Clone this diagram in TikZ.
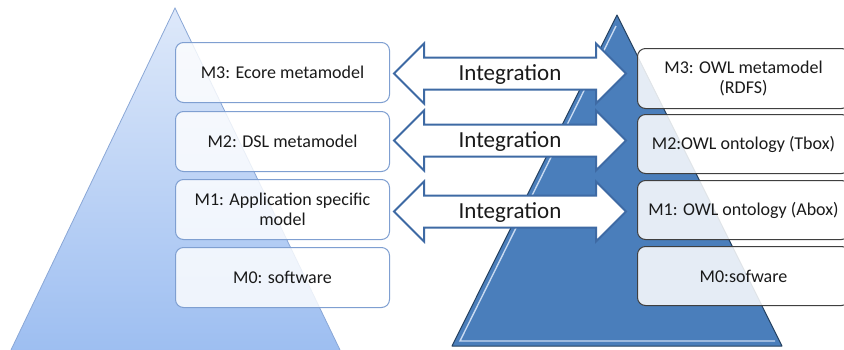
\documentclass[tikz,border=0pt]{standalone}
\usepackage{fontspec}
\setmainfont{Carlito}
\usetikzlibrary{calc}

\definecolor{pyrtop}{HTML}{DEE9FA}
\definecolor{pyrbot}{HTML}{9DBEF1}
\definecolor{pyredge}{HTML}{8AA7D6}
\definecolor{owlblue}{HTML}{4A7EBB}
\definecolor{owledge}{HTML}{24405F}
\definecolor{owllight}{HTML}{C8DAF1}
\definecolor{lboxedge}{HTML}{7F9FD1}
\definecolor{rboxedge}{HTML}{3F3F3F}
\definecolor{arrowedge}{HTML}{3E6AA4}
\definecolor{txt}{HTML}{1A1A1A}

% double-headed block arrow between two tips, with its label node
\newcommand\integarrow[3]{%
  \draw[blockarrow] (#1) -- ++(30,-30) -- ++(0,14) -- ($(#2)+(-30,-16)$)
    -- ++(0,-14) -- (#2) -- ++(-30,30) -- ++(0,-14) -- ($(#1)+(30,16)$)
    -- ++(0,14) -- cycle;
  \node[inttext] (#3) at ($(#1)!0.5!(#2)+(0,1)$) {Integration};
}

\begin{document}
\begin{tikzpicture}[x=1pt,y=-1pt,
  boxbase/.style={line width=1pt, fill=white, text opacity=1,
    rounded corners=8pt, align=center, text=txt, inner sep=0pt,
    anchor=north west, font=\fontsize{18}{20.5}\selectfont},
  lbox/.style={boxbase, draw=lboxedge, fill opacity=0.82,
    minimum width=214pt, minimum height=60pt},
  rbox/.style={boxbase, draw=rboxedge, fill opacity=0.86,
    minimum width=212pt, minimum height=59pt},
  blockarrow/.style={draw=arrowedge, fill=white, line width=2pt, line join=miter},
  inttext/.style={text=txt, font=\fontsize{23}{25}\selectfont, inner sep=0pt},
]
\useasboundingbox (0,0) rectangle (844,349);
\clip (0,0) rectangle (844,349);

% left pyramid (modelling stack)
\shade[top color=pyrtop, bottom color=pyrbot, draw=pyredge, line width=0.8pt]
  (175,8) -- (10,352) -- (341,352) -- cycle;

% right pyramid (ontology stack)
\fill[owlblue] (617,15) -- (452,346) -- (782,346) -- cycle;
\draw[owllight, line width=1.4pt] (616,26) -- (460,341) -- (775,341);
\draw[owledge, line width=1pt, line join=round] (617,15) -- (452,346) -- (782,346) -- cycle;

% left boxes
\node[lbox] (l3) at (175,42)  {M3: Ecore metamodel};
\node[lbox] (l2) at (175,111) {M2: DSL metamodel};
\node[lbox] (l1) at (175,179) {M1: Application specific\\model};
\node[lbox] (l0) at (175,247) {M0: software};

% right boxes
\node[rbox, minimum height=60pt] (r3) at (637,48) {M3: OWL metamodel\\(RDFS)};
\node[rbox] (r2) at (637,114) {M2:OWL ontology (Tbox)};
\node[rbox] (r1) at (637,180) {M1: OWL ontology (Abox)};
\node[rbox] (r0) at (637,246) {M0:sofware};

% arrow tips
\coordinate (a3l) at ($(l3.east)+(4,1)$);
\coordinate (a2l) at ($(l2.east)+(4,-1)$);
\coordinate (a1l) at ($(l1.east)+(4,2)$);
\coordinate (a3r) at ($(a3l -| r3.west)+(-11,0)$);
\coordinate (a2r) at ($(a2l -| r2.west)+(-11,0)$);
\coordinate (a1r) at ($(a1l -| r1.west)+(-11,0)$);

\integarrow{a3l}{a3r}{int3}
\integarrow{a2l}{a2r}{int2}
\integarrow{a1l}{a1r}{int1}
\end{tikzpicture}
\end{document}
